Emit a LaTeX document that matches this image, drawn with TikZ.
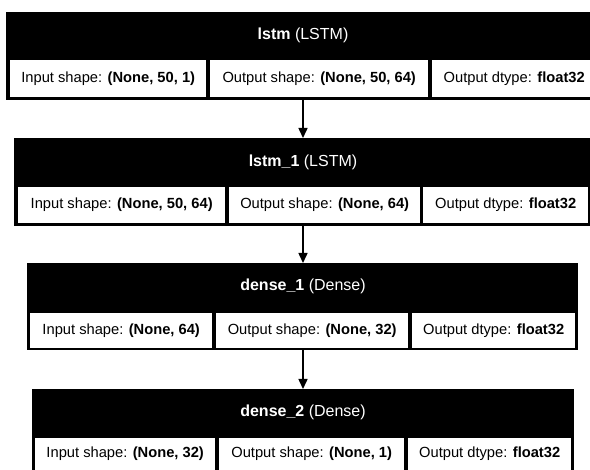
\documentclass[tikz,border=0pt]{standalone}
\usepackage{fontspec}
\setmainfont{Liberation Sans}
\usetikzlibrary{arrows.meta}
\tikzset{
  blk/.style={fill=black, draw=none, inner sep=0pt, anchor=north west},
  cell/.style={fill=white, draw=none, inner sep=0pt, anchor=north west, text=black,
    font=\fontsize{14.7}{17}\selectfont},
  ttl/.style={text=white, inner sep=0pt, font=\fontsize{16}{19}\selectfont},
  conn/.style={line width=1.5pt, -{Triangle[width=9pt,length=10pt]}},
}
\begin{document}
\begin{tikzpicture}[x=1pt,y=-1pt]
\useasboundingbox (0,0) rectangle (590,470);
\clip (0,0) rectangle (590,470);
% block 1
\node[blk, minimum width=594pt, minimum height=88pt] (b1) at (6,12) {};
\node[ttl] (t1) at (303,35) {\textbf{lstm} (LSTM)};
\node[cell, minimum width=196pt, minimum height=37pt] (c11) at (10,60) {Input shape: \textbf{(None, 50, 1)}};
\node[cell, minimum width=218pt, minimum height=37pt] (c12) at (210,60) {Output shape: \textbf{(None, 50, 64)}};
\node[cell, minimum width=164pt, minimum height=37pt] (c13) at (432,60) {Output dtype: \textbf{float32}};
% block 2
\node[blk, minimum width=578pt, minimum height=88pt] (b2) at (14,138) {};
\node[ttl] (t2) at (303,162) {\textbf{lstm\_1} (LSTM)};
\node[cell, minimum width=207pt, minimum height=36pt] (c21) at (18,187) {Input shape: \textbf{(None, 50, 64)}};
\node[cell, minimum width=191pt, minimum height=36pt] (c22) at (229,187) {Output shape: \textbf{(None, 64)}};
\node[cell, minimum width=165pt, minimum height=36pt] (c23) at (423,187) {Output dtype: \textbf{float32}};
% block 3
\node[blk, minimum width=551pt, minimum height=87pt] (b3) at (27,263) {};
\node[ttl] (t3) at (303,286) {\textbf{dense\_1} (Dense)};
\node[cell, minimum width=182pt, minimum height=35pt] (c31) at (30,313) {Input shape: \textbf{(None, 64)}};
\node[cell, minimum width=192pt, minimum height=35pt] (c32) at (216,313) {Output shape: \textbf{(None, 32)}};
\node[cell, minimum width=163pt, minimum height=35pt] (c33) at (412,313) {Output dtype: \textbf{float32}};
% block 4
\node[blk, minimum width=542pt, minimum height=86pt] (b4) at (32,389) {};
\node[ttl] (t4) at (303,412) {\textbf{dense\_2} (Dense)};
\node[cell, minimum width=180pt, minimum height=32pt] (c41) at (35,438) {Input shape: \textbf{(None, 32)}};
\node[cell, minimum width=185pt, minimum height=32pt] (c42) at (219,438) {Output shape: \textbf{(None, 1)}};
\node[cell, minimum width=163pt, minimum height=32pt] (c43) at (408,438) {Output dtype: \textbf{float32}};
% connectors
\draw[conn] (b1.south -| t1) -- (b2.north -| t1);
\draw[conn] (b2.south -| t1) -- (b3.north -| t1);
\draw[conn] (b3.south -| t1) -- (b4.north -| t1);
\end{tikzpicture}
\end{document}
